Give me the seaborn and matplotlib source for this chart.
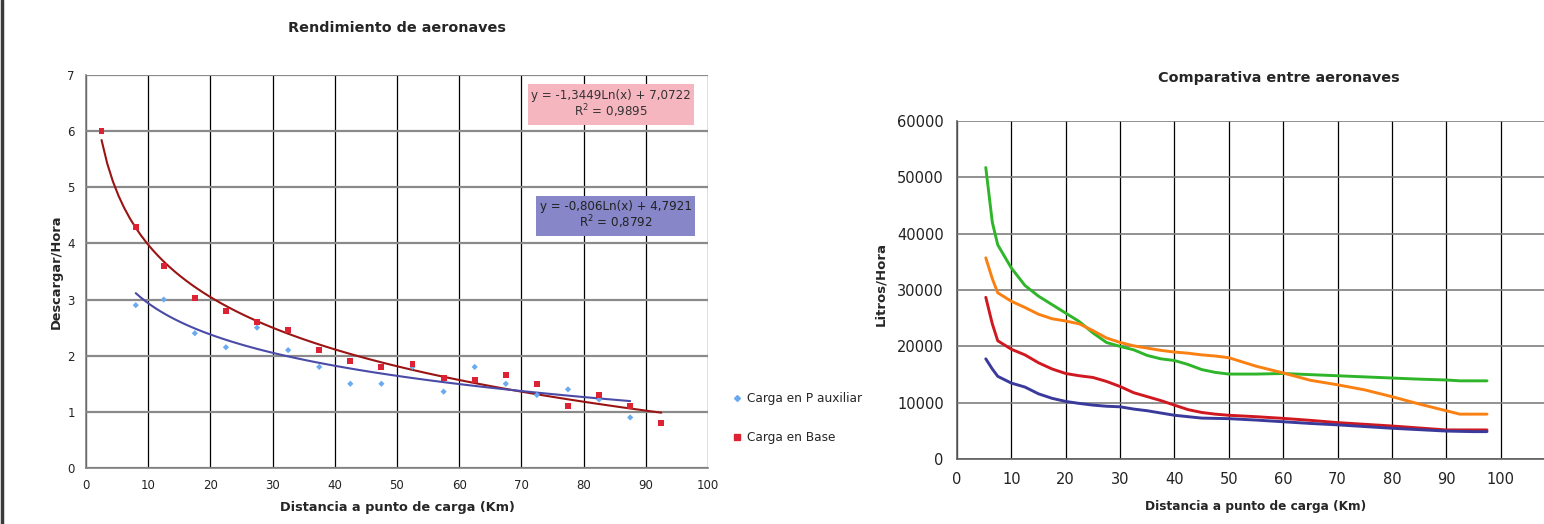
import numpy as np
import pandas as pd
import seaborn as sns
import matplotlib
matplotlib.use("Agg")
from matplotlib import pyplot as plt
from matplotlib.patches import Rectangle
from matplotlib.lines import Line2D

# ---- left chart data: Rendimiento de aeronaves ----
x_aux = [8, 12.5, 17.5, 22.5, 27.5, 32.5, 37.5, 42.5, 47.5, 52.5, 57.5, 62.5,
         67.5, 72.5, 77.5, 82.5, 87.5]
y_aux = [2.9, 3.0, 2.4, 2.15, 2.5, 2.1, 1.8, 1.5, 1.5, 1.8, 1.36, 1.8,
         1.5, 1.3, 1.4, 1.22, 0.9]

x_base = [2.5, 8, 12.5, 17.5, 22.5, 27.5, 32.5, 37.5, 42.5, 47.5, 52.5, 57.5,
          62.5, 67.5, 72.5, 77.5, 82.5, 87.5, 92.5]
y_base = [6.0, 4.3, 3.6, 3.02, 2.8, 2.6, 2.45, 2.1, 1.9, 1.8, 1.86, 1.6,
          1.56, 1.65, 1.5, 1.1, 1.3, 1.1, 0.8]

eq_base = "y = -1,3449Ln(x) + 7,0722\nR$^2$ = 0,9895"
eq_aux = "y = -0,806Ln(x) + 4,7921\nR$^2$ = 0,8792"

# ---- right chart data: Comparativa entre aeronaves ----
dist = [5.3, 6.5, 7.5, 10, 12.5, 15, 17.5, 20, 22.5, 25, 27.5, 30, 32.5, 35,
        37.5, 40, 42.5, 45, 47.5, 50, 55, 60, 65, 70, 75, 80, 85, 90, 92.5, 95, 97.5]
verde = [51700, 42000, 38000, 33900, 30800, 28900, 27400, 25900, 24400, 22400,
         20700, 20000, 19400, 18400, 17800, 17500, 16800, 15900, 15400, 15100,
         15100, 15200, 15000, 14800, 14600, 14400, 14200, 14050, 13900, 13900, 13900]
naranja = [35700, 32000, 29500, 28000, 26900, 25700, 24900, 24500, 24000, 22800,
           21500, 20700, 20100, 19700, 19300, 19000, 18800, 18500, 18300, 18000,
           16500, 15300, 14000, 13200, 12300, 11100, 9800, 8600, 8000, 8000, 8000]
rojo = [28700, 24000, 21000, 19500, 18500, 17100, 16000, 15200, 14800, 14500,
        13800, 12900, 11800, 11100, 10400, 9600, 8800, 8300, 8000, 7800,
        7550, 7250, 6900, 6500, 6200, 5900, 5550, 5200, 5200, 5200, 5200]
azul = [17800, 16000, 14700, 13500, 12800, 11600, 10800, 10250, 9900, 9600,
        9400, 9300, 8900, 8600, 8200, 7800, 7550, 7300, 7250, 7200,
        6950, 6650, 6350, 6100, 5800, 5500, 5250, 5000, 4950, 4900, 4900]

sns.set_theme(style="white")
plt.rcParams['font.family'] = ['DejaVu Sans']

fig = plt.figure(figsize=(15.44, 5.24), dpi=100)
fig.patch.set_facecolor('white')

# ======== left chart ========
ax1 = fig.add_axes([0.0557, 0.1069, 0.4028, 0.750])
ax1.set_axisbelow(True)

df_aux = pd.DataFrame({'x': x_aux, 'y': y_aux})
df_base = pd.DataFrame({'x': x_base, 'y': y_base})

# logarithmic trend lines, fitted by seaborn
sns.regplot(data=df_base, x='x', y='y', logx=True, ci=None, scatter=False,
            ax=ax1, line_kws={'color': '#9a1414', 'lw': 1.5})
sns.regplot(data=df_aux, x='x', y='y', logx=True, ci=None, scatter=False,
            ax=ax1, line_kws={'color': '#4a4aa8', 'lw': 1.5})
sns.scatterplot(data=df_aux, x='x', y='y', ax=ax1, marker='D', s=10,
                color='#6aaaf0', edgecolor='none', legend=False, zorder=3)
sns.scatterplot(data=df_base, x='x', y='y', ax=ax1, marker='s', s=18,
                color='#dd2233', edgecolor='none', legend=False, zorder=3)

ax1.set_xlim(0, 100)
ax1.set_ylim(0, 7)
ax1.set_xticks(np.arange(0, 101, 10))
ax1.set_yticks(np.arange(0, 8, 1))
ax1.xaxis.grid(True, color='black', lw=0.9)
ax1.yaxis.grid(True, color='#8a8a8a', lw=1.6)
for s in ['top', 'right']:
    ax1.spines[s].set_visible(False)
for s in ['left', 'bottom']:
    ax1.spines[s].set_color('#808080')
    ax1.spines[s].set_linewidth(1.2)
ax1.tick_params(axis='both', direction='inout', length=6, width=1,
                color='#555555', labelsize=8.5, labelcolor='#222222', pad=5)
ax1.set_xlabel('Distancia a punto de carga (Km)', fontsize=9.3, fontweight='bold')
ax1.set_ylabel('Descargar/Hora', fontsize=9.4, fontweight='bold')
ax1.xaxis.set_label_coords(0.5, -0.083)
ax1.yaxis.set_label_coords(-0.037, 0.5)
ax1.set_title('Rendimiento de aeronaves', fontsize=10.4, fontweight='bold',
              pad=31)

ax1.add_patch(Rectangle((71.0, 6.11), 26.7, 0.73, fc='#f6b6c0', ec='none', zorder=4))
ax1.add_patch(Rectangle((72.4, 4.14), 25.6, 0.71, fc='#8686c8', ec='none', zorder=4))
ax1.text(84.35, 6.475, eq_base, ha='center', va='center', fontsize=8.6,
         color='#333333', zorder=5, linespacing=1.0)
ax1.text(85.2, 4.495, eq_aux, ha='center', va='center', fontsize=8.6,
         color='#222222', zorder=5, linespacing=1.0)

handles = [Line2D([], [], ls='none', marker='D', ms=3, color='#6aaaf0'),
           Line2D([], [], ls='none', marker='s', ms=4, color='#dd2233')]
fig.legend(handles, ['Carga en P auxiliar', 'Carga en Base'],
           loc='center left', bbox_to_anchor=(0.468, 0.202), frameon=False,
           fontsize=8.7, labelspacing=2.2, handlelength=0.6, handletextpad=0.5)

# ======== right chart ========
ax2 = fig.add_axes([0.6198, 0.1235, 0.3873, 0.6462])
ax2.set_axisbelow(True)

df_lines = pd.DataFrame({
    'dist': dist * 4,
    'litros': verde + naranja + rojo + azul,
    'serie': ['verde'] * len(dist) + ['naranja'] * len(dist)
             + ['rojo'] * len(dist) + ['azul'] * len(dist),
})
palette = {'verde': '#2fb52a', 'naranja': '#fb8012', 'rojo': '#d01820', 'azul': '#3a3a9c'}
sns.lineplot(data=df_lines, x='dist', y='litros', hue='serie', palette=palette,
             lw=2.1, legend=False, ax=ax2, zorder=3)

ax2.set_xlim(0, 110)
ax2.set_ylim(0, 60000)
ax2.set_xticks(np.arange(0, 101, 10))
ax2.set_yticks(np.arange(0, 60001, 10000))
ax2.xaxis.grid(True, color='black', lw=0.9)
ax2.yaxis.grid(True, color='#7f7f7f', lw=1.2)
for s in ['top', 'right']:
    ax2.spines[s].set_visible(False)
for s in ['left', 'bottom']:
    ax2.spines[s].set_color('#606060')
    ax2.spines[s].set_linewidth(1.2)
ax2.tick_params(axis='both', direction='inout', length=7, width=1,
                color='#444444', labelsize=10.5, labelcolor='#222222', pad=6)
ax2.set_xlabel('Distancia a punto de carga (Km)', fontsize=8.7, fontweight='bold')
ax2.set_ylabel('Litros/Hora', fontsize=9.5, fontweight='bold')
ax2.xaxis.set_label_coords(0.5, -0.12)
ax2.yaxis.set_label_coords(-0.117, 0.518)
ax2.set_title('Comparativa entre aeronaves', fontsize=10.4, fontweight='bold',
              pad=28, x=0.5 * (1279 - 957) / 299)

# dark border on the left edge
fig.add_artist(Line2D([0.0015, 0.0015], [0, 1], transform=fig.transFigure,
                      color='#3a3a3a', lw=2.5))

fig.savefig('out.png', dpi=100)
